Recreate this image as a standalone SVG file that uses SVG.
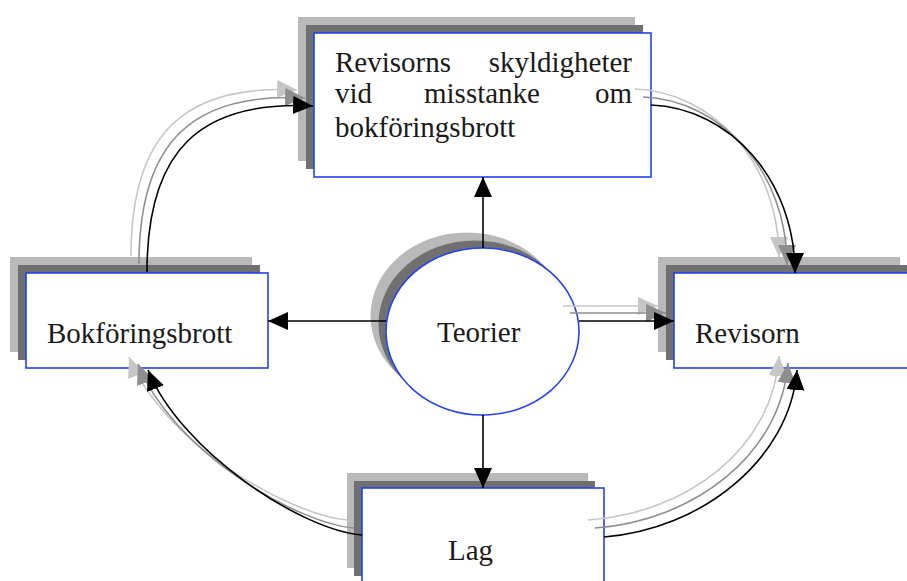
<svg xmlns="http://www.w3.org/2000/svg" width="907" height="581" viewBox="0 0 907 581">
<style>
.sh1{fill:#b9b9b9}
.sh2{fill:#707070}
.box{fill:#fff;stroke:#2342f0;stroke-width:1.6}
.t{font-family:"Liberation Serif","Times New Roman",serif;font-size:29px;fill:#1a1a1a}
.ln{fill:none;stroke:#000;stroke-width:1.6}
.lnL{fill:none;stroke:#c6c6c6;stroke-width:1.6}
.lnM{fill:none;stroke:#8e8e8e;stroke-width:1.6}
</style>
<defs>
<marker id="ah" markerUnits="userSpaceOnUse" markerWidth="22" markerHeight="20" refX="20" refY="9" orient="auto"><path d="M0,0 L20,9 L0,18 z" fill="#000"/></marker>
<marker id="ahL" markerUnits="userSpaceOnUse" markerWidth="22" markerHeight="20" refX="20" refY="9" orient="auto"><path d="M0,0 L20,9 L0,18 z" fill="#c6c6c6"/></marker>
<marker id="ahM" markerUnits="userSpaceOnUse" markerWidth="22" markerHeight="20" refX="20" refY="9" orient="auto"><path d="M0,0 L20,9 L0,18 z" fill="#8e8e8e"/></marker>
</defs>
<rect width="907" height="581" fill="#fff"/>

<g id="node-top">
<rect class="sh1" x="298" y="17" width="337" height="144"/>
<rect class="sh2" x="306" y="25" width="337" height="144"/>
<rect class="box" x="314" y="33" width="337" height="144"/>
<text class="t" x="335" y="72">Revisorns</text>
<text class="t" x="632" y="72" text-anchor="end">skyldigheter</text>
<text class="t" x="335" y="103">vid</text>
<text class="t" x="424" y="103">misstanke</text>
<text class="t" x="632" y="103" text-anchor="end">om</text>
<text class="t" x="335" y="137">bokföringsbrott</text>
</g>

<g id="node-left">
<rect class="sh1" x="10" y="257" width="242" height="95"/>
<rect class="sh2" x="18" y="265" width="242" height="95"/>
<rect class="box" x="26" y="273" width="242" height="95"/>
<text class="t" x="47" y="343">Bokföringsbrott</text>
</g>

<g id="node-right">
<rect class="sh1" x="658" y="257" width="242" height="95"/>
<rect class="sh2" x="666" y="265" width="242" height="95"/>
<rect class="box" x="674" y="273" width="242" height="95"/>
<text class="t" x="695" y="343">Revisorn</text>
</g>

<g id="node-bottom">
<rect class="sh1" x="347" y="473" width="241" height="95"/>
<rect class="sh2" x="354" y="481" width="241" height="95"/>
<rect class="box" x="362" y="488" width="242" height="95"/>
<text class="t" x="448" y="560">Lag</text>
</g>

<g id="node-center">
<ellipse class="sh1" cx="467" cy="316" rx="96.5" ry="83.5"/>
<ellipse class="sh2" cx="475" cy="324" rx="96.5" ry="83.5"/>
<ellipse class="box" cx="482.5" cy="331.5" rx="96.5" ry="83.5"/>
<text class="t" x="437" y="342">Teorier</text>
</g>

<g id="connectors">
<!-- straight arrows -->
<path class="ln" d="M483,248 L483,177" marker-end="url(#ah)"/>
<path class="ln" d="M386,321 L268,321" marker-end="url(#ah)"/>
<path class="ln" d="M483,415 L483,488" marker-end="url(#ah)"/>
<path class="lnL" d="M563,306 L658,306" marker-end="url(#ahL)"/>
<path class="lnM" d="M570,313 L666,313" marker-end="url(#ahM)"/>
<path class="ln" d="M579,321 L674,321" marker-end="url(#ah)"/>
<!-- curve 1: left box -> top box -->
<path class="lnL" d="M131,256 C131,134 184,84 297,90" marker-end="url(#ahL)"/>
<path class="lnM" d="M139,264 C139,142 192,92 305,98" marker-end="url(#ahM)"/>
<path class="ln" d="M147,272 C147,150 200,100 313,106" marker-end="url(#ah)"/>
<!-- curve 2: top box -> right box -->
<path class="lnL" d="M635,89 C714,92 779,164 779,257" marker-end="url(#ahL)"/>
<path class="lnM" d="M643,97 C722,100 787,172 787,265" marker-end="url(#ahM)"/>
<path class="ln" d="M651,105 C730,108 795,180 795,273" marker-end="url(#ah)"/>
<!-- curve 3: bottom box -> left box -->
<path class="lnL" d="M347,520 C290,515 165,445 129,357" marker-end="url(#ahL)"/>
<path class="lnM" d="M354,528 C295,523 172,450 138,364" marker-end="url(#ahM)"/>
<path class="ln" d="M362,535 C300,530 180,450 148,370" marker-end="url(#ah)"/>
<!-- curve 4: bottom box -> right box -->
<path class="lnL" d="M588,520 C688,513 773,448 779,356" marker-end="url(#ahL)"/>
<path class="lnM" d="M595,528 C693,521 781,455 788,363" marker-end="url(#ahM)"/>
<path class="ln" d="M604,537 C700,530 790,460 797,370" marker-end="url(#ah)"/>
</g>
</svg>
